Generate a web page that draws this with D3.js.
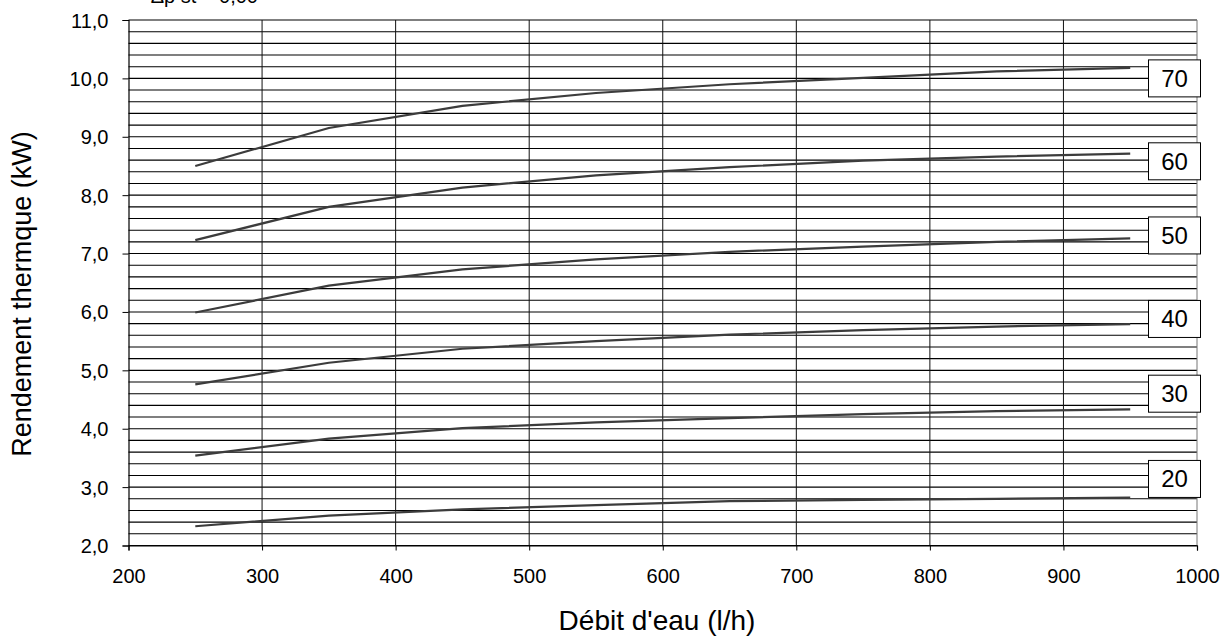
<!DOCTYPE html>
<html>
<head>
<meta charset="utf-8">
<script src="https://cdn.jsdelivr.net/npm/d3@7"></script>
<style>
  html, body { margin: 0; padding: 0; background: #fff; }
  svg { display: block; font-family: "Liberation Sans", Arial, sans-serif; }
</style>
</head>
<body>
<svg id="chart"></svg>
<script>
// water flow (l/h) at which each curve was measured
const flows = [250, 350, 450, 550, 650, 750, 850, 950];

// thermal output (kW) per temperature difference
const dt20 = [2.33, 2.51, 2.62, 2.69, 2.76, 2.78, 2.80, 2.82];
const dt30 = [3.54, 3.83, 4.01, 4.11, 4.18, 4.25, 4.30, 4.33];
const dt40 = [4.76, 5.13, 5.37, 5.50, 5.61, 5.69, 5.75, 5.79];
const dt50 = [5.99, 6.45, 6.73, 6.90, 7.03, 7.12, 7.20, 7.26];
const dt60 = [7.23, 7.80, 8.13, 8.34, 8.48, 8.59, 8.66, 8.71];
const dt70 = [8.50, 9.15, 9.53, 9.75, 9.90, 10.01, 10.12, 10.18];

const curveNames = ["20", "30", "40", "50", "60", "70"];
const curveValues = [dt20, dt30, dt40, dt50, dt60, dt70];
// kW level where each curve's tag box sits
const tagLevels = [3.14, 4.60, 5.88, 7.31, 8.58, 10.0];

const xTicks = [200, 300, 400, 500, 600, 700, 800, 900, 1000];
const yTicks = [2, 3, 4, 5, 6, 7, 8, 9, 10, 11];

const width = 1230, height = 637;
const margin = { left: 128.5, right: 33, top: 20, bottom: 91.5 };

const svg = d3.select("#chart")
  .attr("width", width)
  .attr("height", height);

const x = d3.scaleLinear()
  .domain([200, 1000])
  .range([margin.left, width - margin.right]);

const y = d3.scaleLinear()
  .domain([2, 11])
  .range([height - margin.bottom, margin.top]);

const fr = d3.formatLocale({ decimal: ",", thousands: " ", grouping: [3], currency: ["", "€"] });
const fmt = fr.format(".1f");

// header, cut off by the top edge as in the original
svg.append("text")
  .attr("x", 258)
  .attr("y", 3)
  .attr("text-anchor", "end")
  .attr("font-size", "20px")
  .attr("fill", "#000")
  .text("Δp st = 0,00");

// horizontal grid every 0.2
const minor = d3.range(2, 11.0001, 0.2);
svg.append("g")
  .selectAll("line")
  .data(minor)
  .join("line")
  .attr("x1", x(200))
  .attr("x2", x(1000))
  .attr("y1", d => y(d))
  .attr("y2", d => y(d))
  .attr("stroke", "#000")
  .attr("stroke-width", 1.1);

// vertical grid
svg.append("g")
  .selectAll("line")
  .data(xTicks.slice(1))
  .join("line")
  .attr("x1", d => x(d))
  .attr("x2", d => x(d))
  .attr("y1", y(2))
  .attr("y2", y(11))
  .attr("stroke", d => d === 1000 ? "#777" : "#111")
  .attr("stroke-width", 1);

// axes
const xAxis = d3.axisBottom(x)
  .tickValues(xTicks)
  .tickSize(5)
  .tickPadding(18)
  .tickFormat(d3.format("d"));

const gx = svg.append("g")
  .attr("transform", `translate(0,${y(2)})`)
  .call(xAxis);

const yAxis = d3.axisLeft(y)
  .tickValues(yTicks)
  .tickSize(6)
  .tickPadding(14)
  .tickFormat(fmt);

const gy = svg.append("g")
  .attr("transform", `translate(${x(200)},0)`)
  .call(yAxis);

[gx, gy].forEach(g => {
  g.select(".domain").attr("stroke", "#000").attr("stroke-width", 1.2);
  g.selectAll(".tick line").attr("stroke", "#000");
  g.selectAll(".tick text")
    .attr("font-family", "Liberation Sans, Arial, sans-serif")
    .attr("font-size", "20px")
    .attr("fill", "#000");
});
gy.selectAll(".tick text").attr("dy", "0.35em");

// curves
const line = d3.line()
  .x((d, i) => x(flows[i]))
  .y(d => y(d));

svg.append("g")
  .selectAll("path")
  .data(curveValues)
  .join("path")
  .attr("d", line)
  .attr("fill", "none")
  .attr("stroke", "#3c3c3c")
  .attr("stroke-width", 2.2);

// tag boxes on the right
const tags = svg.append("g")
  .selectAll("g")
  .data(curveNames)
  .join("g")
  .attr("transform", (d, i) => `translate(${x(1000) - 48.5},${y(tagLevels[i]) - 18.5})`);

tags.append("rect")
  .attr("width", 52)
  .attr("height", 37)
  .attr("fill", "#fff")
  .attr("stroke", "#000")
  .attr("stroke-width", 1);

tags.append("text")
  .attr("x", 26)
  .attr("y", 27)
  .attr("text-anchor", "middle")
  .attr("font-size", "24px")
  .attr("fill", "#000")
  .text(d => d);

// axis titles
svg.append("text")
  .attr("x", 657)
  .attr("y", 630)
  .attr("text-anchor", "middle")
  .attr("font-size", "28px")
  .attr("fill", "#000")
  .text("Débit d'eau (l/h)");

svg.append("text")
  .attr("transform", "translate(31,294) rotate(-90)")
  .attr("text-anchor", "middle")
  .attr("font-size", "27px")
  .attr("fill", "#000")
  .text("Rendement thermque (kW)");
</script>
</body>
</html>
